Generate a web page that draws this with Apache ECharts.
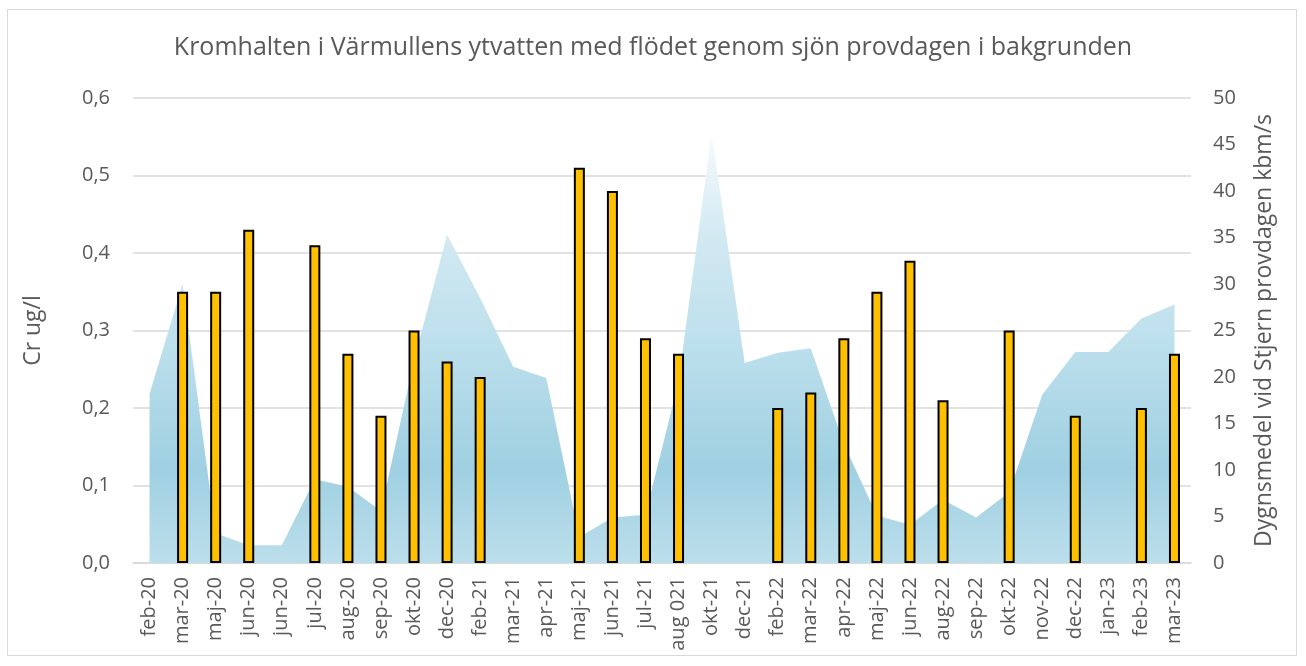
<!DOCTYPE html>
<html>
<head>
<meta charset="utf-8">
<script src="https://cdn.jsdelivr.net/npm/echarts@6/dist/echarts.min.js"></script>
<style>
  html, body { margin: 0; padding: 0; background: #fff; }
  #frame {
    position: absolute; left: 7px; top: 9px; width: 1290px; height: 647px;
    border: 1px solid #d9d9d9; box-sizing: border-box;
  }
  #chart { position: absolute; left: 0; top: 0; width: 1306px; height: 666px; }
</style>
</head>
<body>
<div id="frame"></div>
<div id="chart"></div>
<script>
// provdagar
const categories = [
  'feb-20', 'mar-20', 'maj-20', 'jun-20', 'jun-20', 'jul-20', 'aug-20', 'sep-20',
  'okt-20', 'dec-20', 'feb-21', 'mar-21', 'apr-21', 'maj-21', 'jun-21', 'jul-21',
  'aug 021', 'okt-21', 'dec-21', 'feb-22', 'mar-22', 'apr-22', 'maj-22', 'jun-22',
  'aug-22', 'sep-22', 'okt-22', 'nov-22', 'dec-22', 'jan-23', 'feb-23', 'mar-23',
]

// Cr ug/l (null = ingen analys)
const crValues = [
  null, 0.35, 0.35, 0.43, null, 0.41, 0.27, 0.19,
  0.30, 0.26, 0.24, null, null, 0.51, 0.48, 0.29,
  0.27, null, null, 0.20, 0.22, 0.29, 0.35, 0.39,
  0.21, null, 0.30, null, 0.19, null, 0.20, 0.27,
]

// dygnsmedelflöde vid Stjern, kbm/s
const flowValues = [
  18.2, 30.0, 3.2, 1.9, 1.9, 9.0, 8.2, 5.6,
  21.8, 35.3, 28.5, 21.1, 19.9, 2.8, 4.9, 5.2,
  19.5, 46.2, 21.5, 22.6, 23.1, 12.8, 5.1, 4.1,
  6.8, 4.9, 7.6, 18.1, 22.7, 22.7, 26.3, 27.8,
]

const leftTicks = { min: 0, max: 0.6, interval: 0.1 }
const rightTicks = { min: 0, max: 50, interval: 5 }

const TEXT = '#595959'
const FONT = 'Open Sans'

const chart = echarts.init(document.getElementById('chart'), null, { renderer: 'canvas' })

chart.setOption({
  animation: false,
  title: {
    text: 'Kromhalten i Värmullens ytvatten med flödet genom sjön provdagen i bakgrunden',
    left: 'center',
    top: 30,
    textStyle: { fontFamily: FONT, fontSize: 25, fontWeight: 'normal', color: TEXT },
  },
  grid: { left: 133, right: 115, top: 98, bottom: 103 },
  xAxis: {
    type: 'category',
    data: categories,
    boundaryGap: true,
    axisLine: { show: true, lineStyle: { color: '#d9d9d9', width: 1.5 } },
    axisTick: { show: false },
    axisLabel: {
      interval: 0,
      rotate: 90,
      margin: 14,
      fontFamily: FONT,
      fontSize: 20,
      color: TEXT,
    },
  },
  yAxis: [
    {
      type: 'value',
      ...leftTicks,
      name: 'Cr ug/l',
      nameLocation: 'middle',
      nameGap: 88,
      nameTextStyle: { fontFamily: FONT, fontSize: 23, color: TEXT },
      axisLine: { show: false },
      axisTick: { show: false },
      axisLabel: {
        margin: 23,
        fontFamily: FONT,
        fontSize: 20,
        color: TEXT,
        formatter: v => v.toFixed(1).replace('.', ','),
      },
      splitLine: { lineStyle: { color: '#d9d9d9', width: 1.5 } },
    },
    {
      type: 'value',
      ...rightTicks,
      position: 'right',
      name: 'Dygnsmedel vid Stjern provdagen kbm/s',
      nameLocation: 'middle',
      nameGap: 62,
      nameTextStyle: { fontFamily: FONT, fontSize: 23, color: TEXT },
      axisLine: { show: false },
      axisTick: { show: false },
      axisLabel: { margin: 22, fontFamily: FONT, fontSize: 20, color: TEXT },
      splitLine: { show: false },
    },
  ],
  series: [
    {
      name: 'Flöde',
      type: 'line',
      yAxisIndex: 1,
      data: flowValues,
      symbol: 'none',
      lineStyle: { width: 0 },
      z: 1,
      areaStyle: {
        opacity: 1,
        color: new echarts.graphic.LinearGradient(0, 0, 0, 1, [
          { offset: 0, color: '#f7fbfd' },
          { offset: 0.24, color: '#d2e9f2' },
          { offset: 0.5, color: '#bcdfec' },
          { offset: 0.78, color: '#9fd0e2' },
          { offset: 1, color: '#bcdeeb' },
        ]),
      },
    },
    {
      name: 'Cr',
      type: 'bar',
      yAxisIndex: 0,
      data: crValues,
      barWidth: 11,
      z: 3,
      itemStyle: { color: '#ffc000', borderColor: '#000', borderWidth: 2 },
    },
  ],
})
</script>
</body>
</html>
